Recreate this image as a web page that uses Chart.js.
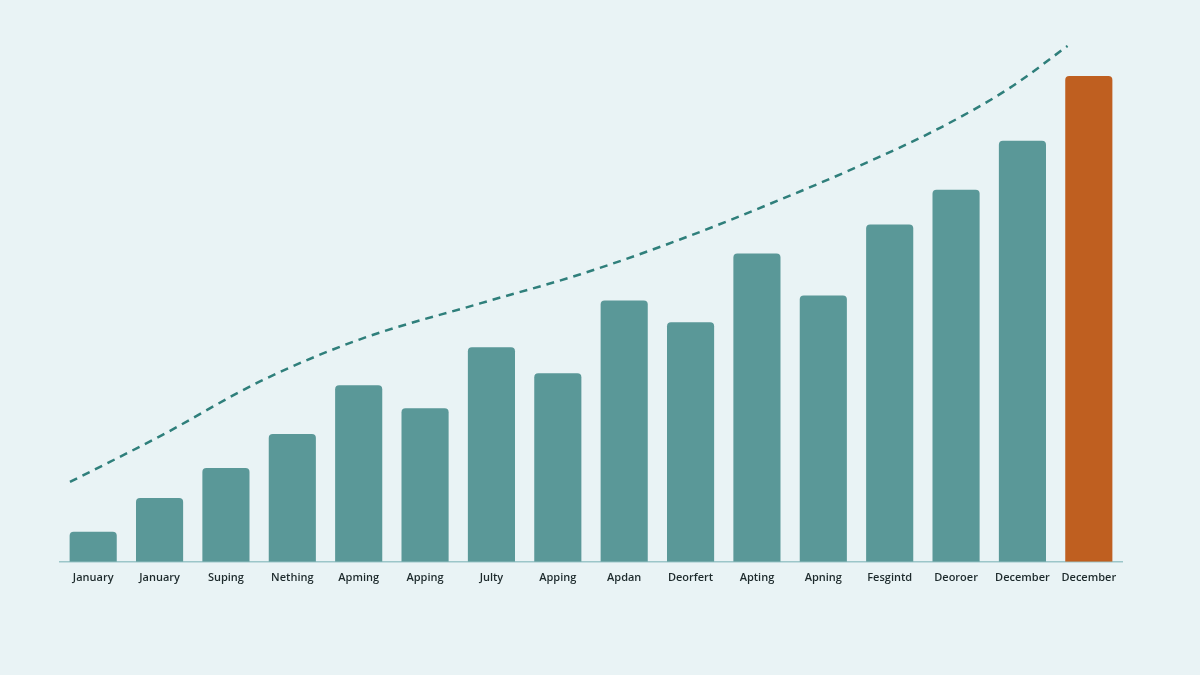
<!DOCTYPE html>
<html>
<head>
<meta charset="utf-8">
<script src="https://cdn.jsdelivr.net/npm/chart.js@4"></script>
<style>
  html, body { margin: 0; padding: 0; background: #e9f3f5; }
  #wrap { width: 1200px; height: 675px; position: relative; }
</style>
</head>
<body>
<div id="wrap"><canvas id="chart"></canvas></div>
<script>
/* ── data ─────────────────────────────────────────────── */
const labels = ['January', 'January', 'Suping', 'Nething', 'Apming', 'Apping', 'Julty', 'Apping',
                'Apdan', 'Deorfert', 'Apting', 'Apning', 'Fesgintd', 'Deoroer', 'December', 'December'];
const values = [30, 64, 94, 128, 177, 154, 215, 189, 262, 240, 309, 267, 338, 373, 422, 487];

// trend line, x in category-index units
const trendX = [-0.35, 1.01, 2.52, 4.02, 5.83, 7.33, 8.84, 10.35, 11.55, 12.76, 13.81, 14.68];
const trendY = [80, 126, 181, 223, 259, 288, 323, 363, 397, 435, 475, 517];

const C = {
    bar:    '#5a9898',
    accent: '#bf5f20',
    line:   '#2f7f7b',
    axis:   '#9cc6c9',
    text:   '#1d2a2c',
};

const barColors = values.map((_, i) => i === values.length - 1 ? C.accent : C.bar);

new Chart(document.getElementById('chart'), {
    data: {
        labels,
        datasets: [
            {
                type: 'bar',
                data: values,
                backgroundColor: barColors,
                borderRadius: { topLeft: 4, topRight: 4 },
                borderSkipped: 'bottom',
                grouped: false,
                categoryPercentage: 1,
                barPercentage: 0.71,
                order: 2,
            },
            {
                type: 'line',
                data: trendX.map((x, i) => ({ x, y: trendY[i] })),
                xAxisID: 'x2',
                borderColor: C.line,
                borderWidth: 2.5,
                borderDash: [8, 6],
                pointRadius: 0,
                cubicInterpolationMode: 'monotone',
                fill: false,
                order: 1,
            },
        ]
    },
    options: {
        responsive: true,
        maintainAspectRatio: false,
        animation: false,
        layout: { padding: { left: 60, right: 78, top: 43, bottom: 90 } },
        plugins: { legend: { display: false }, tooltip: { enabled: false } },
        scales: {
            x: {
                offset: true,
                grid: { display: false },
                border: { display: true, color: C.axis, width: 1.5 },
                ticks: {
                    color: C.text,
                    padding: 1,
                    maxRotation: 0,
                    autoSkip: false,
                    font: { family: "'Open Sans', sans-serif", size: 11, weight: '600' },
                },
            },
            x2: { type: 'linear', display: false, min: -0.5, max: 15.5 },
            y: { display: false, min: 0, max: 520 },
        }
    }
});
</script>
</body>
</html>
